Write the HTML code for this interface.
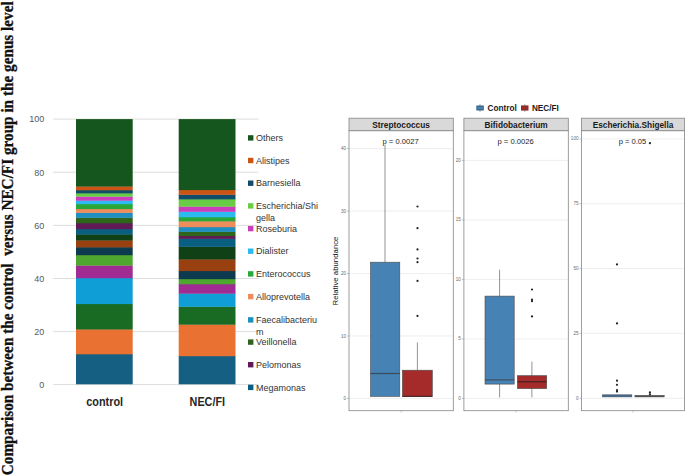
<!DOCTYPE html>
<html><head><meta charset="utf-8"><title>Figure</title>
<style>
html,body{margin:0;padding:0;background:#fff;}
body{width:685px;height:476px;overflow:hidden;}
svg{display:block;}
.ax{font-family:"Liberation Sans",sans-serif;font-size:9px;fill:#595959;}
.lg{font-family:"Liberation Sans",sans-serif;font-size:9px;fill:#333;}
.cat{font-family:"Liberation Sans",sans-serif;font-size:12px;font-weight:bold;fill:#262626;}
.ttl{font-family:"Liberation Serif",serif;font-size:15.25px;font-weight:bold;fill:#111;}
.strip{font-family:"Liberation Sans",sans-serif;font-size:8.3px;font-weight:bold;fill:#1a1a1a;}
.pv{font-family:"Liberation Sans",sans-serif;font-size:7.6px;fill:#222;}
.yt{font-family:"Liberation Sans",sans-serif;font-size:4.6px;fill:#6a6a6a;}
.yl{font-family:"Liberation Sans",sans-serif;font-size:7.8px;fill:#111;}
.lk{font-family:"Liberation Sans",sans-serif;font-size:8.2px;font-weight:bold;fill:#1a1a1a;}
</style></head><body>
<svg width="685" height="476" viewBox="0 0 685 476">
<rect width="685" height="476" fill="#fff"/>

<text class="ttl" transform="translate(12.7,475.2) rotate(-90) scale(1,1.09)" stroke="#111" stroke-width="0.3" xml:space="preserve">Comparison between the control  versus NEC/FI group in the genus level</text>
<line x1="53.3" x2="258.6" y1="119.1" y2="119.1" stroke="#d9d9d9" stroke-width="0.9"/>
<text class="ax" x="44.2" y="122.4" text-anchor="end">100</text>
<line x1="53.3" x2="258.6" y1="172.2" y2="172.2" stroke="#d9d9d9" stroke-width="0.9"/>
<text class="ax" x="44.2" y="175.5" text-anchor="end">80</text>
<line x1="53.3" x2="258.6" y1="225.4" y2="225.4" stroke="#d9d9d9" stroke-width="0.9"/>
<text class="ax" x="44.2" y="228.7" text-anchor="end">60</text>
<line x1="53.3" x2="258.6" y1="278.5" y2="278.5" stroke="#d9d9d9" stroke-width="0.9"/>
<text class="ax" x="44.2" y="281.8" text-anchor="end">40</text>
<line x1="53.3" x2="258.6" y1="331.6" y2="331.6" stroke="#d9d9d9" stroke-width="0.9"/>
<text class="ax" x="44.2" y="334.9" text-anchor="end">20</text>
<line x1="53.3" x2="258.6" y1="384.6" y2="384.6" stroke="#d9d9d9" stroke-width="0.9"/>
<text class="ax" x="44.2" y="387.9" text-anchor="end">0</text>
<rect x="76" y="354" width="56.7" height="30.3" fill="#156082"/>
<rect x="76" y="329.2" width="56.7" height="25.1" fill="#E97132"/>
<rect x="76" y="303.8" width="56.7" height="25.7" fill="#196B24"/>
<rect x="76" y="277.9" width="56.7" height="26.2" fill="#0F9ED5"/>
<rect x="76" y="265.3" width="56.7" height="12.9" fill="#A02B93"/>
<rect x="76" y="254.9" width="56.7" height="10.7" fill="#4EA72E"/>
<rect x="76" y="247.1" width="56.7" height="8.1" fill="#0d3a4e"/>
<rect x="76" y="240.2" width="56.7" height="7.2" fill="#994010"/>
<rect x="76" y="234.2" width="56.7" height="6.3" fill="#0f4016"/>
<rect x="76" y="228.9" width="56.7" height="5.6" fill="#095f80"/>
<rect x="76" y="223" width="56.7" height="6.2" fill="#601a58"/>
<rect x="76" y="217.5" width="56.7" height="5.8" fill="#2f641c"/>
<rect x="76" y="212.6" width="56.7" height="5.2" fill="#1f8ec0"/>
<rect x="76" y="208.8" width="56.7" height="4.1" fill="#ed8d5b"/>
<rect x="76" y="203.9" width="56.7" height="5.2" fill="#27a839"/>
<rect x="76" y="200.4" width="56.7" height="3.8" fill="#2cbaf0"/>
<rect x="76" y="196.4" width="56.7" height="4.3" fill="#cb3dbb"/>
<rect x="76" y="193.1" width="56.7" height="3.6" fill="#68cc45"/>
<rect x="76" y="190" width="56.7" height="3.4" fill="#114d68"/>
<rect x="76" y="186.3" width="56.7" height="4.0" fill="#cc5516"/>
<rect x="76" y="119.1" width="56.7" height="67.5" fill="#14561d"/>
<rect x="178.7" y="355.9" width="56.8" height="28.4" fill="#156082"/>
<rect x="178.7" y="324.4" width="56.8" height="31.8" fill="#E97132"/>
<rect x="178.7" y="306.5" width="56.8" height="18.2" fill="#196B24"/>
<rect x="178.7" y="293.4" width="56.8" height="13.4" fill="#0F9ED5"/>
<rect x="178.7" y="284.0" width="56.8" height="9.7" fill="#A02B93"/>
<rect x="178.7" y="278.9" width="56.8" height="5.4" fill="#4EA72E"/>
<rect x="178.7" y="270.8" width="56.8" height="8.4" fill="#0d3a4e"/>
<rect x="178.7" y="259.2" width="56.8" height="11.9" fill="#994010"/>
<rect x="178.7" y="246.6" width="56.8" height="12.9" fill="#0f4016"/>
<rect x="178.7" y="238.6" width="56.8" height="8.3" fill="#095f80"/>
<rect x="178.7" y="235.8" width="56.8" height="3.1" fill="#601a58"/>
<rect x="178.7" y="231.6" width="56.8" height="4.5" fill="#2f641c"/>
<rect x="178.7" y="226.9" width="56.8" height="5.0" fill="#1f8ec0"/>
<rect x="178.7" y="221.1" width="56.8" height="6.1" fill="#ed8d5b"/>
<rect x="178.7" y="217.0" width="56.8" height="4.4" fill="#27a839"/>
<rect x="178.7" y="211.5" width="56.8" height="5.8" fill="#2cbaf0"/>
<rect x="178.7" y="206.4" width="56.8" height="5.4" fill="#cb3dbb"/>
<rect x="178.7" y="199.1" width="56.8" height="7.6" fill="#68cc45"/>
<rect x="178.7" y="194.5" width="56.8" height="4.9" fill="#114d68"/>
<rect x="178.7" y="189.8" width="56.8" height="5.0" fill="#cc5516"/>
<rect x="178.7" y="119.1" width="56.8" height="71.0" fill="#14561d"/>
<text class="cat" x="104.7" y="405.9" text-anchor="middle" textLength="36.8" lengthAdjust="spacingAndGlyphs">control</text>
<text class="cat" x="207.3" y="405.9" text-anchor="middle" textLength="35.4" lengthAdjust="spacingAndGlyphs">NEC/FI</text>
<rect x="248" y="135.2" width="5.4" height="5.4" fill="#14561d"/>
<text class="lg" x="256" y="141.1">Others</text>
<rect x="248" y="157.8" width="5.4" height="5.4" fill="#cc5516"/>
<text class="lg" x="256" y="163.7">Alistipes</text>
<rect x="248" y="180.5" width="5.4" height="5.4" fill="#114d68"/>
<text class="lg" x="256" y="186.4">Barnesiella</text>
<rect x="248" y="203.2" width="5.4" height="5.4" fill="#68cc45"/>
<text class="lg" x="256" y="209.1">Escherichia/Shi</text>
<text class="lg" x="256" y="220.6">gella</text>
<rect x="248" y="225.9" width="5.4" height="5.4" fill="#cb3dbb"/>
<text class="lg" x="256" y="231.8">Roseburia</text>
<rect x="248" y="248.5" width="5.4" height="5.4" fill="#2cbaf0"/>
<text class="lg" x="256" y="254.4">Dialister</text>
<rect x="248" y="271.2" width="5.4" height="5.4" fill="#27a839"/>
<text class="lg" x="256" y="277.1">Enterococcus</text>
<rect x="248" y="293.9" width="5.4" height="5.4" fill="#ed8d5b"/>
<text class="lg" x="256" y="299.8">Alloprevotella</text>
<rect x="248" y="317.2" width="5.4" height="5.4" fill="#1f8ec0"/>
<text class="lg" x="256" y="323.1">Faecalibacteriu</text>
<text class="lg" x="256" y="334.6">m</text>
<rect x="248" y="339.4" width="5.4" height="5.4" fill="#2f641c"/>
<text class="lg" x="256" y="345.3">Veillonella</text>
<rect x="248" y="362.0" width="5.4" height="5.4" fill="#601a58"/>
<text class="lg" x="256" y="367.9">Pelomonas</text>
<rect x="248" y="384.7" width="5.4" height="5.4" fill="#095f80"/>
<text class="lg" x="256" y="390.6">Megamonas</text>
<rect x="476.3" y="105.4" width="7.5" height="5.2" fill="#4682b4"/>
<line x1="480" x2="480" y1="104.2" y2="111.8" stroke="#444" stroke-width="0.5"/>
<rect x="477" y="106.2" width="6.1" height="3.6" fill="#4682b4" stroke="#444" stroke-width="0.4"/>
<text class="lk" x="487.6" y="110.8">Control</text>
<rect x="521" y="105.4" width="7.5" height="5.2" fill="#a52a2a"/>
<line x1="524.8" x2="524.8" y1="104.2" y2="111.8" stroke="#444" stroke-width="0.5"/>
<rect x="521.7" y="106.2" width="6.1" height="3.6" fill="#a52a2a" stroke="#444" stroke-width="0.4"/>
<text class="lk" x="531.9" y="110.8">NEC/FI</text>
<line x1="349.0" x2="453.3" y1="148.6" y2="148.6" stroke="#e6e6e6" stroke-width="0.7"/>
<line x1="347.0" x2="349.0" y1="148.6" y2="148.6" stroke="#888" stroke-width="0.5"/>
<text class="yt" x="346.0" y="150.1" text-anchor="end">40</text>
<line x1="349.0" x2="453.3" y1="211.1" y2="211.1" stroke="#e6e6e6" stroke-width="0.7"/>
<line x1="347.0" x2="349.0" y1="211.1" y2="211.1" stroke="#888" stroke-width="0.5"/>
<text class="yt" x="346.0" y="212.6" text-anchor="end">30</text>
<line x1="349.0" x2="453.3" y1="273.6" y2="273.6" stroke="#e6e6e6" stroke-width="0.7"/>
<line x1="347.0" x2="349.0" y1="273.6" y2="273.6" stroke="#888" stroke-width="0.5"/>
<text class="yt" x="346.0" y="275.1" text-anchor="end">20</text>
<line x1="349.0" x2="453.3" y1="336.0" y2="336.0" stroke="#e6e6e6" stroke-width="0.7"/>
<line x1="347.0" x2="349.0" y1="336.0" y2="336.0" stroke="#888" stroke-width="0.5"/>
<text class="yt" x="346.0" y="337.5" text-anchor="end">10</text>
<line x1="349.0" x2="453.3" y1="398.4" y2="398.4" stroke="#e6e6e6" stroke-width="0.7"/>
<line x1="347.0" x2="349.0" y1="398.4" y2="398.4" stroke="#888" stroke-width="0.5"/>
<text class="yt" x="346.0" y="399.9" text-anchor="end">0</text>
<rect x="349.0" y="130.7" width="104.3" height="280" fill="none" stroke="#858585" stroke-width="0.8"/>
<rect x="349.0" y="118.2" width="104.3" height="12.5" fill="#d9d9d9" stroke="#858585" stroke-width="0.8"/>
<text class="strip" x="401.1" y="127.6" text-anchor="middle">Streptococcus</text>
<text class="pv" x="400.6" y="143.8" text-anchor="middle">p = 0.0027</text>
<line x1="401.1" x2="401.1" y1="410.7" y2="412.4" stroke="#888" stroke-width="0.5"/>
<line x1="463.9" x2="568.3" y1="160.4" y2="160.4" stroke="#e6e6e6" stroke-width="0.7"/>
<line x1="461.9" x2="463.9" y1="160.4" y2="160.4" stroke="#888" stroke-width="0.5"/>
<text class="yt" x="460.9" y="161.9" text-anchor="end">20</text>
<line x1="463.9" x2="568.3" y1="219.9" y2="219.9" stroke="#e6e6e6" stroke-width="0.7"/>
<line x1="461.9" x2="463.9" y1="219.9" y2="219.9" stroke="#888" stroke-width="0.5"/>
<text class="yt" x="460.9" y="221.4" text-anchor="end">15</text>
<line x1="463.9" x2="568.3" y1="279.4" y2="279.4" stroke="#e6e6e6" stroke-width="0.7"/>
<line x1="461.9" x2="463.9" y1="279.4" y2="279.4" stroke="#888" stroke-width="0.5"/>
<text class="yt" x="460.9" y="280.9" text-anchor="end">10</text>
<line x1="463.9" x2="568.3" y1="338.9" y2="338.9" stroke="#e6e6e6" stroke-width="0.7"/>
<line x1="461.9" x2="463.9" y1="338.9" y2="338.9" stroke="#888" stroke-width="0.5"/>
<text class="yt" x="460.9" y="340.4" text-anchor="end">5</text>
<line x1="463.9" x2="568.3" y1="398.4" y2="398.4" stroke="#e6e6e6" stroke-width="0.7"/>
<line x1="461.9" x2="463.9" y1="398.4" y2="398.4" stroke="#888" stroke-width="0.5"/>
<text class="yt" x="460.9" y="399.9" text-anchor="end">0</text>
<rect x="463.9" y="130.7" width="104.4" height="280" fill="none" stroke="#858585" stroke-width="0.8"/>
<rect x="463.9" y="118.2" width="104.4" height="12.5" fill="#d9d9d9" stroke="#858585" stroke-width="0.8"/>
<text class="strip" x="516.1" y="127.6" text-anchor="middle">Bifidobacterium</text>
<text class="pv" x="515.6" y="143.8" text-anchor="middle">p = 0.0026</text>
<line x1="516.1" x2="516.1" y1="410.7" y2="412.4" stroke="#888" stroke-width="0.5"/>
<line x1="581.5" x2="684.6" y1="138.9" y2="138.9" stroke="#e6e6e6" stroke-width="0.7"/>
<line x1="579.5" x2="581.5" y1="138.9" y2="138.9" stroke="#888" stroke-width="0.5"/>
<text class="yt" x="578.5" y="140.4" text-anchor="end">100</text>
<line x1="581.5" x2="684.6" y1="203.7" y2="203.7" stroke="#e6e6e6" stroke-width="0.7"/>
<line x1="579.5" x2="581.5" y1="203.7" y2="203.7" stroke="#888" stroke-width="0.5"/>
<text class="yt" x="578.5" y="205.2" text-anchor="end">75</text>
<line x1="581.5" x2="684.6" y1="268.6" y2="268.6" stroke="#e6e6e6" stroke-width="0.7"/>
<line x1="579.5" x2="581.5" y1="268.6" y2="268.6" stroke="#888" stroke-width="0.5"/>
<text class="yt" x="578.5" y="270.1" text-anchor="end">50</text>
<line x1="581.5" x2="684.6" y1="333.4" y2="333.4" stroke="#e6e6e6" stroke-width="0.7"/>
<line x1="579.5" x2="581.5" y1="333.4" y2="333.4" stroke="#888" stroke-width="0.5"/>
<text class="yt" x="578.5" y="334.9" text-anchor="end">25</text>
<line x1="581.5" x2="684.6" y1="398.3" y2="398.3" stroke="#e6e6e6" stroke-width="0.7"/>
<line x1="579.5" x2="581.5" y1="398.3" y2="398.3" stroke="#888" stroke-width="0.5"/>
<text class="yt" x="578.5" y="399.8" text-anchor="end">0</text>
<rect x="581.5" y="130.7" width="103.1" height="280" fill="none" stroke="#858585" stroke-width="0.8"/>
<rect x="581.5" y="118.2" width="103.1" height="12.5" fill="#d9d9d9" stroke="#858585" stroke-width="0.8"/>
<text class="strip" x="633.0" y="127.6" text-anchor="middle">Escherichia.Shigella</text>
<text class="pv" x="632.5" y="143.8" text-anchor="middle">p = 0.05</text>
<line x1="633.0" x2="633.0" y1="410.7" y2="412.4" stroke="#888" stroke-width="0.5"/>
<text class="yl" transform="translate(338.1,271) rotate(-90)" text-anchor="middle">Relative abundance</text>
<line x1="385" x2="385" y1="144.7" y2="262.2" stroke="#4a4a4a" stroke-width="0.6"/>
<rect x="370.5" y="262.2" width="29.3" height="134.2" fill="#4682b4" stroke="#4a4a4a" stroke-width="0.6"/>
<line x1="370.5" x2="399.8" y1="373.5" y2="373.5" stroke="#3a4a58" stroke-width="1.2"/>
<line x1="417.4" x2="417.4" y1="342.4" y2="370.2" stroke="#4a4a4a" stroke-width="0.6"/>
<rect x="402.4" y="370.2" width="29.9" height="26.4" fill="#a52a2a" stroke="#4a4a4a" stroke-width="0.6"/>
<line x1="402.4" x2="432.3" y1="396.3" y2="396.3" stroke="#3a2020" stroke-width="1"/>
<circle cx="417.5" cy="206.5" r="1.1" fill="#222"/>
<circle cx="417.5" cy="228.2" r="1.1" fill="#222"/>
<circle cx="417.5" cy="249.4" r="1.1" fill="#222"/>
<circle cx="417.5" cy="258.5" r="1.1" fill="#222"/>
<circle cx="417.5" cy="262.2" r="1.1" fill="#222"/>
<circle cx="417.5" cy="280.9" r="1.1" fill="#222"/>
<circle cx="417.5" cy="315.9" r="1.1" fill="#222"/>
<line x1="499.6" x2="499.6" y1="269.7" y2="397.4" stroke="#4a4a4a" stroke-width="0.6"/>
<rect x="485" y="296.1" width="29.2" height="88" fill="#4682b4" stroke="#4a4a4a" stroke-width="0.6"/>
<line x1="485" x2="514.2" y1="379.9" y2="379.9" stroke="#3a4a58" stroke-width="1.1"/>
<line x1="531.9" x2="531.9" y1="361.7" y2="397.4" stroke="#4a4a4a" stroke-width="0.6"/>
<rect x="517.4" y="375.7" width="29.3" height="12.9" fill="#a52a2a" stroke="#4a4a4a" stroke-width="0.6"/>
<line x1="517.4" x2="546.7" y1="381.8" y2="381.8" stroke="#3a2020" stroke-width="1.1"/>
<circle cx="532" cy="289.5" r="1.1" fill="#222"/>
<circle cx="532" cy="299.7" r="1.1" fill="#222"/>
<circle cx="532" cy="301.2" r="1.1" fill="#222"/>
<circle cx="532" cy="316.4" r="1.1" fill="#222"/>
<rect x="602.4" y="394.8" width="29.5" height="2.1" fill="#4a6a8c" stroke="#3a4a5a" stroke-width="0.5"/>
<rect x="634.9" y="395.4" width="29.3" height="1.5" fill="#444" stroke="#444" stroke-width="0.5"/>
<circle cx="617" cy="264.4" r="1.1" fill="#222"/>
<circle cx="617" cy="323.4" r="1.1" fill="#222"/>
<circle cx="617" cy="380.7" r="1.1" fill="#222"/>
<circle cx="617" cy="384.8" r="1.1" fill="#222"/>
<circle cx="617" cy="390.1" r="1.1" fill="#222"/>
<circle cx="617" cy="391.6" r="1.1" fill="#222"/>
<circle cx="649.9" cy="143.2" r="1.1" fill="#222"/>
<circle cx="649.9" cy="392.4" r="1.1" fill="#222"/>
<circle cx="649.9" cy="394.3" r="1.1" fill="#222"/>
</svg></body></html>
